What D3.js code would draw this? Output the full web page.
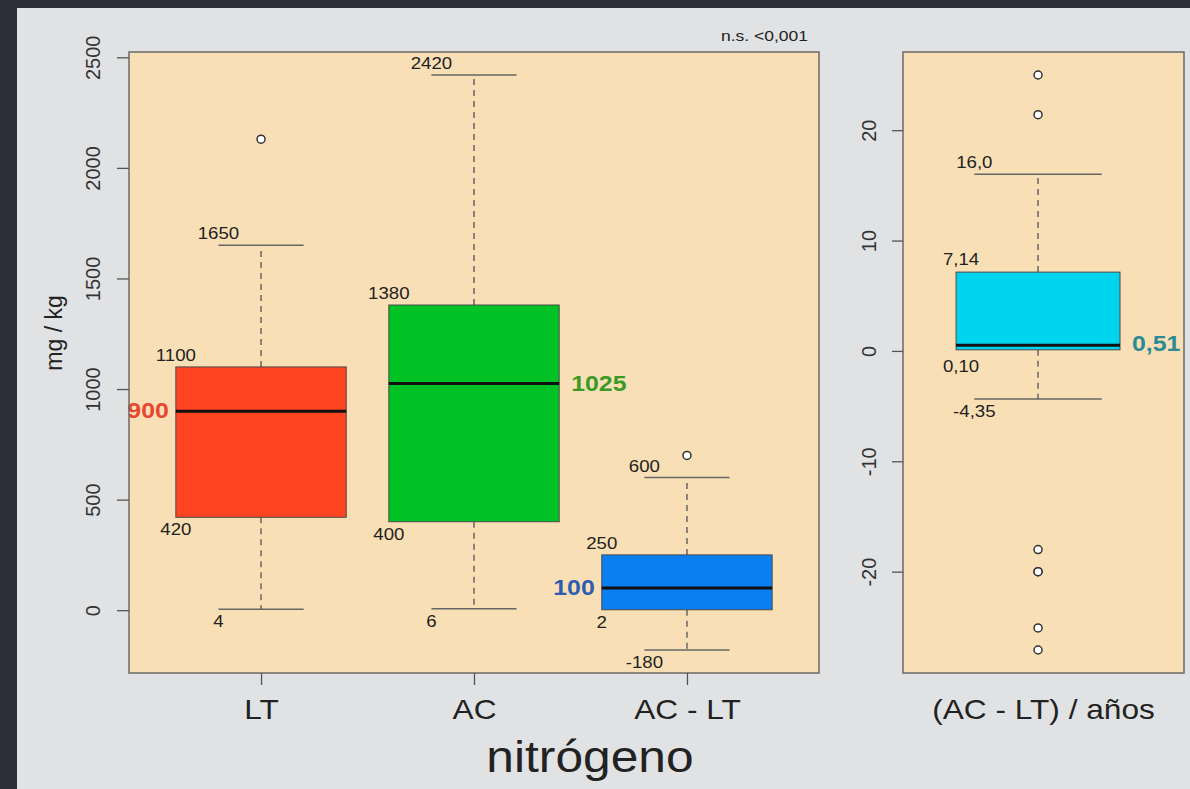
<!DOCTYPE html>
<html>
<head>
<meta charset="utf-8">
<script src="https://cdn.jsdelivr.net/npm/d3@7"></script>
<style>
  html, body { margin: 0; padding: 0; background: #2c2f38; }
  svg { display: block; font-family: "Liberation Sans", Arial, sans-serif; }
</style>
</head>
<body>
<div id="chart"></div>
<script>
// Box statistics (nitrogen, mg/kg)
const groups = ["LT", "AC", "AC - LT"];
const lowerWhisker = [4, 6, -180];
const q1 = [420, 400, 2];
const median = [900, 1025, 100];
const q3 = [1100, 1380, 250];
const upperWhisker = [1650, 2420, 600];
const outliers = [[2130], [], [700]];
const boxColors = ["#ff4422", "#00c224", "#0a7ff2"];
const medianColors = ["#e5482e", "#3a9a28", "#2f5db0"];
const medianSide = ["left", "right", "left"];
const leftTicks = [0, 500, 1000, 1500, 2000, 2500];

// Right panel: (AC - LT) / años
const rateGroup = "(AC - LT) / años";
const rateStats = {lower: -4.35, q1: 0.10, median: 0.51, q3: 7.14, upper: 16.0};
const rateLabels = {lower: "-4,35", q1: "0,10", median: "0,51", q3: "7,14", upper: "16,0"};
const rateOutliers = [25, 21.4, -18, -20, -20, -25.1, -27.1];
const rateColor = "#00d3ee";
const rateMedianColor = "#2b8a93";
const rightTicks = [-20, -10, 0, 10, 20];

const W = 1190, H = 789;
const SX = 1.13; // the slide text is a bit wider than plain Arial

const svg = d3.select("#chart").append("svg")
    .attr("width", W)
    .attr("height", H);

// background
svg.append("rect").attr("width", W).attr("height", H).attr("fill", "#2c2f38");
svg.append("rect").attr("x", 17).attr("y", 8).attr("width", W - 17).attr("height", H - 8).attr("fill", "#e1e2e4");

// R style domain: data range padded 4% on each side
function padded(lo, hi) {
    const p = (hi - lo) * 0.04;
    return [lo - p, hi + p];
}

function txt(g, x, y, s, size, opts = {}) {
    return g.append("text")
        .attr("transform", `translate(${x},${y}) scale(${opts.sx || SX},1)`)
        .attr("text-anchor", opts.anchor || "middle")
        .attr("font-size", size)
        .attr("font-weight", opts.bold ? "bold" : "normal")
        .attr("fill", opts.color || "#222")
        .text(s);
}

const plotTop = 52, plotBottom = 673;

// ---------- left panel ----------
const allLeft = lowerWhisker.concat(upperWhisker, outliers.flat());
const xL = d3.scaleLinear().domain([0.38, 3.62]).range([129, 819]);
const yL = d3.scaleLinear().domain(padded(d3.min(allLeft), d3.max(allLeft))).range([plotBottom, plotTop]);

const left = svg.append("g");
left.append("rect")
    .attr("x", xL.range()[0]).attr("y", plotTop)
    .attr("width", xL.range()[1] - xL.range()[0]).attr("height", plotBottom - plotTop)
    .attr("fill", "#f9dfb5");

const boxW = 0.8, capW = 0.4;

groups.forEach((name, i) => {
    const c = i + 1;
    const g = left.append("g");
    // whiskers
    [[q3[i], upperWhisker[i]], [q1[i], lowerWhisker[i]]].forEach(([a, b]) => {
        g.append("line")
            .attr("x1", xL(c)).attr("x2", xL(c))
            .attr("y1", yL(a)).attr("y2", yL(b))
            .attr("stroke", "#666").attr("stroke-width", 1.5)
            .attr("stroke-dasharray", "6,5");
        g.append("line")
            .attr("x1", xL(c - capW / 2)).attr("x2", xL(c + capW / 2))
            .attr("y1", yL(b)).attr("y2", yL(b))
            .attr("stroke", "#666").attr("stroke-width", 1.5);
    });
    // box
    g.append("rect")
        .attr("x", xL(c - boxW / 2)).attr("y", yL(q3[i]))
        .attr("width", xL(c + boxW / 2) - xL(c - boxW / 2))
        .attr("height", yL(q1[i]) - yL(q3[i]))
        .attr("fill", boxColors[i])
        .attr("stroke", "#4a4a4a").attr("stroke-width", 1);
    g.append("line")
        .attr("x1", xL(c - boxW / 2)).attr("x2", xL(c + boxW / 2))
        .attr("y1", yL(median[i])).attr("y2", yL(median[i]))
        .attr("stroke", "#111").attr("stroke-width", 3);
    // outliers
    g.selectAll("circle").data(outliers[i]).enter().append("circle")
        .attr("cx", xL(c)).attr("cy", d => yL(d)).attr("r", 4)
        .attr("fill", "#fff").attr("stroke", "#333").attr("stroke-width", 1.5);
    // value labels
    txt(g, xL(c - boxW / 2), yL(q3[i]) - 6, q3[i], 16.5);
    txt(g, xL(c - boxW / 2), yL(q1[i]) + 18, q1[i], 16.5);
    txt(g, xL(c - capW / 2), yL(upperWhisker[i]) - 6, upperWhisker[i], 16.5);
    txt(g, xL(c - capW / 2), yL(lowerWhisker[i]) + 18, lowerWhisker[i], 16.5);
    if (medianSide[i] === "left") {
        txt(g, xL(c - boxW / 2) - 7, yL(median[i]) + 7, median[i], 22, {anchor: "end", bold: true, color: medianColors[i]});
    } else {
        txt(g, xL(c + boxW / 2) + 12, yL(median[i]) + 7, median[i], 22, {anchor: "start", bold: true, color: medianColors[i]});
    }
});

left.append("rect")
    .attr("x", xL.range()[0]).attr("y", plotTop)
    .attr("width", xL.range()[1] - xL.range()[0]).attr("height", plotBottom - plotTop)
    .attr("fill", "none").attr("stroke", "#6a6a6a").attr("stroke-width", 1.5);

// y axis (left)
const axL = left.append("g")
    .attr("transform", `translate(${xL.range()[0]},0)`)
    .call(d3.axisLeft(yL).tickValues(leftTicks).tickFormat(d => String(d)).tickSize(12));
axL.select(".domain").remove();
axL.selectAll("line").attr("stroke", "#555").attr("stroke-width", 1.3);
axL.selectAll("text")
    .attr("x", null).attr("dy", null)
    .attr("transform", "translate(-29,0) rotate(-90)")
    .attr("text-anchor", "middle")
    .attr("font-size", 20).attr("font-family", null).attr("fill", "#333");

// x axis (left)
const axB = left.append("g")
    .attr("transform", `translate(0,${plotBottom})`)
    .call(d3.axisBottom(xL).tickValues([1, 2, 3]).tickFormat(d => groups[d - 1]).tickSize(12));
axB.select(".domain").remove();
axB.selectAll("line").attr("stroke", "#555").attr("stroke-width", 1.3);
axB.selectAll("text")
    .attr("y", 46).attr("dy", null)
    .attr("transform", `scale(${SX},1)`)
    .attr("font-size", 28).attr("font-family", null).attr("fill", "#222");

// y label and titles
svg.append("text")
    .attr("transform", "translate(62,333) rotate(-90)")
    .attr("text-anchor", "middle")
    .attr("font-size", 23)
    .attr("fill", "#222")
    .text("mg / kg");
txt(svg, 808, 41, "n.s. <0,001", 15.5, {anchor: "end"});
txt(svg, 590, 772, "nitrógeno", 44);

// ---------- right panel ----------
const allRight = [rateStats.lower, rateStats.upper].concat(rateOutliers);
const xR = d3.scaleLinear().domain([0.481, 1.561]).range([903, 1184]);
const yR = d3.scaleLinear().domain(padded(d3.min(allRight), d3.max(allRight))).range([plotBottom, plotTop]);
const rBoxW = 0.63, rCapW = 0.49;

const right = svg.append("g");
right.append("rect")
    .attr("x", xR.range()[0]).attr("y", plotTop)
    .attr("width", xR.range()[1] - xR.range()[0]).attr("height", plotBottom - plotTop)
    .attr("fill", "#f9dfb5");

[[rateStats.q3, rateStats.upper], [rateStats.q1, rateStats.lower]].forEach(([a, b]) => {
    right.append("line")
        .attr("x1", xR(1)).attr("x2", xR(1))
        .attr("y1", yR(a)).attr("y2", yR(b))
        .attr("stroke", "#666").attr("stroke-width", 1.5)
        .attr("stroke-dasharray", "6,5");
    right.append("line")
        .attr("x1", xR(1 - rCapW / 2)).attr("x2", xR(1 + rCapW / 2))
        .attr("y1", yR(b)).attr("y2", yR(b))
        .attr("stroke", "#666").attr("stroke-width", 1.5);
});
right.append("rect")
    .attr("x", xR(1 - rBoxW / 2)).attr("y", yR(rateStats.q3))
    .attr("width", xR(1 + rBoxW / 2) - xR(1 - rBoxW / 2))
    .attr("height", yR(rateStats.q1) - yR(rateStats.q3))
    .attr("fill", rateColor)
    .attr("stroke", "#4a4a4a").attr("stroke-width", 1);
right.append("line")
    .attr("x1", xR(1 - rBoxW / 2)).attr("x2", xR(1 + rBoxW / 2))
    .attr("y1", yR(rateStats.median)).attr("y2", yR(rateStats.median))
    .attr("stroke", "#111").attr("stroke-width", 3);
right.selectAll("circle").data(rateOutliers).enter().append("circle")
    .attr("cx", xR(1)).attr("cy", d => yR(d)).attr("r", 4)
    .attr("fill", "#fff").attr("stroke", "#333").attr("stroke-width", 1.5);

txt(right, xR(1 - rBoxW / 2) + 5, yR(rateStats.q3) - 7, rateLabels.q3, 16.5);
txt(right, xR(1 - rBoxW / 2) + 5, yR(rateStats.q1) + 22, rateLabels.q1, 16.5);
txt(right, xR(1 - rCapW / 2), yR(rateStats.upper) - 6, rateLabels.upper, 16.5);
txt(right, xR(1 - rCapW / 2), yR(rateStats.lower) + 18, rateLabels.lower, 16.5);
txt(right, xR(1 + rBoxW / 2) + 12, yR(rateStats.median) + 6, rateLabels.median, 22, {anchor: "start", bold: true, color: rateMedianColor});

right.append("rect")
    .attr("x", xR.range()[0]).attr("y", plotTop)
    .attr("width", xR.range()[1] - xR.range()[0]).attr("height", plotBottom - plotTop)
    .attr("fill", "none").attr("stroke", "#6a6a6a").attr("stroke-width", 1.5);

const axR = right.append("g")
    .attr("transform", `translate(${xR.range()[0]},0)`)
    .call(d3.axisLeft(yR).tickValues(rightTicks).tickFormat(d => String(d)).tickSize(11));
axR.select(".domain").remove();
axR.selectAll("line").attr("stroke", "#555").attr("stroke-width", 1.3);
axR.selectAll("text")
    .attr("x", null).attr("dy", null)
    .attr("transform", "translate(-27,0) rotate(-90)")
    .attr("text-anchor", "middle")
    .attr("font-size", 20).attr("font-family", null).attr("fill", "#333");

txt(svg, (xR.range()[0] + xR.range()[1]) / 2, 719, rateGroup, 28);
</script>
</body>
</html>
